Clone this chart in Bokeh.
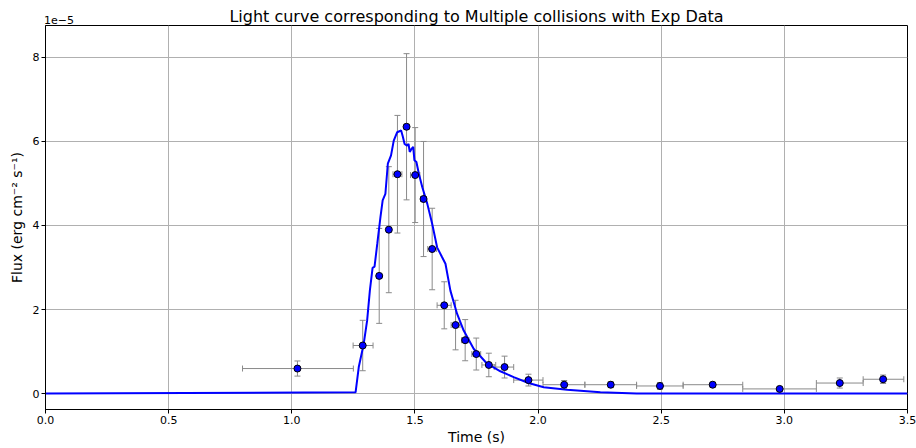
from bokeh.plotting import figure
from bokeh.models import (ColumnDataSource, Whisker, TeeHead, FixedTicker, Range1d,
                          CustomJSTickFormatter, LinearAxis)
from bokeh.embed import file_html
from bokeh.resources import INLINE

# Model light curve (flux in units of 1e-5 erg cm^-2 s^-1)
model_t = [0.0, 1.259, 1.272, 1.292, 1.306, 1.317, 1.328, 1.336, 1.347, 1.360, 1.369, 1.380,
           1.390, 1.403, 1.414, 1.428, 1.444, 1.451, 1.458, 1.468, 1.474, 1.479, 1.487, 1.493,
           1.498, 1.506, 1.516, 1.530, 1.550, 1.570, 1.590, 1.610, 1.624, 1.644, 1.671, 1.698,
           1.739, 1.793, 1.847, 1.901, 1.961, 2.023, 2.118, 2.253, 2.400, 3.500]
model_f = [0.0, 0.03, 0.63, 1.18, 1.74, 2.45, 2.99, 3.02, 3.56, 4.20, 4.60, 4.75,
           5.47, 5.67, 6.02, 6.22, 6.26, 6.11, 5.94, 5.90, 5.94, 5.75, 5.83, 5.87,
           5.55, 5.51, 5.23, 4.91, 4.52, 4.04, 3.48, 3.25, 3.09, 2.45, 1.90, 1.50,
           1.06, 0.71, 0.53, 0.39, 0.25, 0.15, 0.09, 0.03, 0.0, 0.0]

# Experimental data
obs_t = [1.023, 1.288, 1.355, 1.394, 1.429, 1.466, 1.501, 1.535, 1.570, 1.619, 1.665, 1.704,
         1.749, 1.800, 1.864, 1.961, 2.106, 2.295, 2.495, 2.709, 2.981, 3.225, 3.401]
obs_f = [0.595, 1.143, 2.80, 3.90, 5.22, 6.35, 5.20, 4.63, 3.44, 2.10, 1.63, 1.27,
         0.94, 0.68, 0.63, 0.32, 0.21, 0.21, 0.18, 0.21, 0.11, 0.25, 0.34]
obs_ferr = [0.18, 0.60, 1.13, 1.50, 1.40, 1.74, 1.13, 1.37, 0.97, 0.56, 0.59, 0.49,
            0.38, 0.28, 0.26, 0.14, 0.10, 0.07, 0.08, 0.06, 0.05, 0.12, 0.10]
obs_t_lo = [0.80, 1.249, 1.345, 1.385, 1.411, 1.456, 1.482, 1.523, 1.552, 1.590, 1.647, 1.689,
            1.731, 1.772, 1.822, 1.901, 2.020, 2.190, 2.400, 2.589, 2.831, 3.130, 3.320]
obs_t_hi = [1.25, 1.330, 1.365, 1.403, 1.447, 1.476, 1.520, 1.547, 1.588, 1.647, 1.683, 1.719,
            1.767, 1.828, 1.901, 2.020, 2.190, 2.400, 2.589, 2.831, 3.130, 3.320, 3.485]

x_ticks = [0.0, 0.5, 1.0, 1.5, 2.0, 2.5, 3.0, 3.5]
y_ticks = [0, 2, 4, 6, 8]

TITLE = "Light curve corresponding to Multiple collisions with Exp Data"
OFFSET_TEXT = "1e\u22125"
OFFSET_TEXT_POS = 0.055  # where the offset text sits along the time axis

FONT = "DejaVu Sans"

p = figure(width=916, height=448, output_backend="svg", toolbar_location=None,
           x_range=Range1d(0, 3.5), y_range=Range1d(-0.38, 8.76),
           min_border_left=45, min_border_right=9, min_border_top=25, min_border_bottom=39)
p.title.text = ""

p.outline_line_color = "black"
p.outline_line_width = 1
p.outline_line_alpha = 1

for ax in (p.xaxis[0], p.yaxis[0]):
    ax.major_label_text_font = FONT
    ax.major_label_text_font_size = "11px"
    ax.major_label_text_color = "black"
    ax.axis_label_text_font = FONT
    ax.axis_label_text_font_size = "14px"
    ax.axis_label_text_font_style = "normal"
    ax.axis_label_text_color = "black"
    ax.major_tick_out = 4
    ax.major_tick_in = 0
    ax.minor_tick_out = 0
    ax.minor_tick_in = 0
    ax.axis_line_color = "black"
    ax.major_tick_line_color = "black"
    ax.major_label_standoff = 2
    ax.axis_label_standoff = 2
p.yaxis[0].axis_label_standoff = 5

p.xaxis[0].axis_label = "Time (s)"
p.yaxis[0].axis_label = "Flux (erg cm\u207b\u00b2 s\u207b\u00b9)"
p.xaxis[0].ticker = FixedTicker(ticks=x_ticks)
p.yaxis[0].ticker = FixedTicker(ticks=y_ticks)
p.xaxis[0].formatter = CustomJSTickFormatter(code="return tick.toFixed(1);")
p.yaxis[0].formatter = CustomJSTickFormatter(code="return tick.toFixed(0);")

# Top band: y-axis offset text ("1e-5") at the left and the chart title centred,
# sharing the same strip above the frame (as in matplotlib).
top = LinearAxis(ticker=FixedTicker(ticks=[OFFSET_TEXT_POS]),
                 formatter=CustomJSTickFormatter(code='return "%s";' % OFFSET_TEXT),
                 axis_line_color=None, major_tick_line_color=None,
                 major_tick_out=0, major_tick_in=0, minor_tick_out=0, minor_tick_in=0,
                 major_label_standoff=2,
                 major_label_text_font=FONT, major_label_text_font_size="11px",
                 major_label_text_color="black",
                 axis_label=TITLE, axis_label_standoff=-13,
                 axis_label_text_font=FONT, axis_label_text_font_size="16px",
                 axis_label_text_font_style="normal", axis_label_text_color="black")
p.add_layout(top, "above")

p.grid.grid_line_color = "#b0b0b0"
p.grid.grid_line_width = 1
p.grid.grid_line_alpha = 1

# Model curve
p.line(model_t, model_f, line_color="#0000ff", line_width=2)

# Error bars
src = ColumnDataSource(dict(
    t=obs_t, f=obs_f,
    f_lo=[f - e for f, e in zip(obs_f, obs_ferr)],
    f_hi=[f + e for f, e in zip(obs_f, obs_ferr)],
    t_lo=obs_t_lo, t_hi=obs_t_hi,
))
err_col = "#8a8a8a"
vw = Whisker(source=src, base="t", lower="f_lo", upper="f_hi", dimension="height",
             line_color=err_col, line_width=1,
             lower_head=TeeHead(size=6, line_color=err_col, line_width=1),
             upper_head=TeeHead(size=6, line_color=err_col, line_width=1))
hw = Whisker(source=src, base="f", lower="t_lo", upper="t_hi", dimension="width",
             line_color=err_col, line_width=1,
             lower_head=TeeHead(size=6, line_color=err_col, line_width=1),
             upper_head=TeeHead(size=6, line_color=err_col, line_width=1))
p.add_layout(vw)
p.add_layout(hw)

p.scatter("t", "f", source=src, size=7, fill_color="#0000ff", line_color="black", line_width=1)

open("out.html", "w").write(file_html(p, INLINE))
